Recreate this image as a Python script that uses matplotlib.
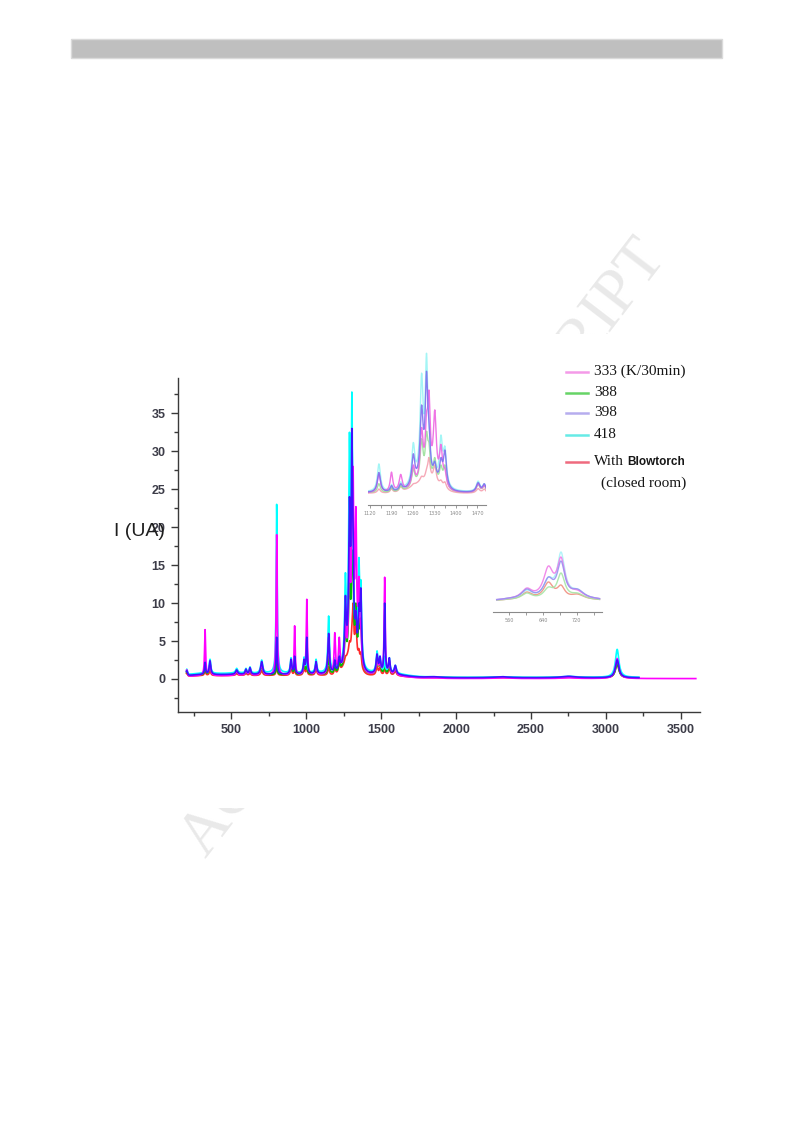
import numpy as np
import matplotlib
matplotlib.use("Agg")
import matplotlib.pyplot as plt
from matplotlib.patches import Rectangle
from matplotlib.lines import Line2D
from matplotlib.ticker import MultipleLocator, FixedLocator

# ------------------------------------------------------------------ data
series_keys = ["333", "388", "398", "418", "blow"]
legend_labels = ["333 (K/30min)", "388", "398", "418"]

# Raman band centres (cm-1) and half widths
band_pos = [202, 324, 357, 535, 597, 624, 702, 802, 898, 922, 985, 1003, 1065,
            1149, 1190, 1220, 1261, 1288, 1304, 1312, 1331, 1351, 1364,
            1472, 1492, 1523, 1554, 1594, 1850, 2300, 2750, 3075]
band_hw = [5, 4, 6, 8, 6, 6, 8, 4, 6, 4, 6, 4, 6,
           6, 5, 6, 6, 6, 5, 5, 6, 6, 6,
           7, 6, 4, 6, 8, 60, 60, 60, 14]

# intensity read at each band centre, per spectrum
t333 = [1.2, 6.5, 2.0, 1.0, 1.2, 1.4, 2.0, 19.0, 2.0, 7.0, 2.0, 10.5, 2.0,
        5.5, 6.1, 5.5, 8.0, 18.0, 22.0, 28.0, 22.7, 13.5, 7.0,
        3.0, 2.6, 13.4, 2.5, 1.5, 0.15, 0.15, 0.15, 2.7]
t388 = [1.0, 2.0, 2.0, 0.9, 1.0, 1.2, 1.7, 2.5, 2.2, 2.2, 2.0, 2.5, 2.0,
        3.0, 2.0, 2.5, 7.0, 15.0, 17.0, 14.0, 10.0, 8.0, 8.0,
        2.8, 2.5, 2.6, 2.3, 1.4, 0.25, 0.25, 0.3, 2.0]
t398 = [1.1, 2.2, 2.4, 1.2, 1.3, 1.5, 2.3, 5.5, 2.6, 3.0, 2.6, 5.5, 2.3,
        6.0, 2.5, 3.0, 11.0, 24.0, 33.0, 20.0, 9.0, 10.0, 12.0,
        3.3, 3.0, 10.0, 2.8, 1.8, 0.3, 0.3, 0.35, 2.5]
t418 = [1.3, 2.4, 2.6, 1.4, 1.4, 1.6, 2.5, 23.0, 2.8, 3.2, 2.9, 3.2, 2.6,
        8.3, 2.8, 3.5, 14.0, 32.5, 37.8, 20.0, 9.0, 16.0, 13.0,
        3.7, 3.0, 3.0, 2.8, 1.8, 0.3, 0.3, 0.35, 3.9]
tblow = [0.8, 1.3, 1.1, 0.7, 0.8, 0.8, 1.1, 2.0, 1.5, 1.5, 1.5, 1.7, 1.4,
         1.6, 1.7, 2.3, 3.0, 5.0, 7.0, 10.0, 8.0, 4.0, 3.5,
         1.7, 1.6, 1.9, 1.6, 1.1, 0.2, 0.2, 0.25, 2.0]

# fluorescence background bands
bg_pos = [300, 550, 800, 1050, 1300, 1550, 1300]
bg_sig = [110, 110, 110, 110, 110, 110, 40]
bg333 = [0.35, 0.35, 0.35, 0.35, 0.35, 0.35, 1.5]
bg388 = [0.35, 0.35, 0.35, 0.35, 0.35, 0.35, 2.0]
bg398 = [0.40, 0.40, 0.40, 0.40, 0.40, 0.40, 2.0]
bg418 = [0.50, 0.50, 0.50, 0.50, 0.50, 0.50, 2.0]
bgblow = [0.30, 0.30, 0.30, 0.30, 0.30, 0.30, 3.0]
offsets = [0.05, 0.15, 0.15, 0.2, 0.12]
x_end = [3600, 3220, 3220, 3220, 3220]

# second inset (own spectral window)
ins2_pos = [560, 602, 653, 683, 722, 765]
ins2_hw = [25, 16, 14, 11, 20, 25]
i2_333 = [3, 13, 35, 44, 11, 3]
i2_388 = [2, 8, 14, 28, 8, 2]
i2_398 = [3, 12, 24, 40, 12, 3]
i2_418 = [3, 11, 24, 49, 12, 3]
i2_blow = [2, 9, 19, 16, 7, 2]
ins2_range = [531, 774]
ins2_ticks = [560, 640, 720]
ins2_minor = [600, 680, 760]

ins1_ticks = [1120, 1190, 1260, 1330, 1400, 1470]
ins1_minor = [1155, 1225, 1295, 1365, 1435]

main_xticks = [500, 1000, 1500, 2000, 2500, 3000, 3500]
main_yticks = [0, 5, 10, 15, 20, 25, 30, 35]

targets = [t333, t388, t398, t418, tblow]
bgs = [bg333, bg388, bg398, bg418, bgblow]
ins2_targets = [i2_333, i2_388, i2_398, i2_418, i2_blow]

main_colors = ["#ff00ff", "#00bf00", "#4010ff", "#00ffff", "#ff2a2a"]
pale_colors = ["#f49ae8", "#66d466", "#b6adee", "#66ebe6", "#ef6a7e"]
ins1_colors = ["#ee66e2", "#9ae09a", "#7f70ee", "#99f4f4", "#f5a0b0"]
ins2_colors = ["#f07ee8", "#a6e6a6", "#9a90f0", "#a8f2f8", "#f09080"]


# ------------------------------------------------------------------ helpers
def lorentz_matrix(xs, pos, hw):
    P = np.asarray(pos, float)
    W = np.asarray(hw, float)
    return 1.0 / (1.0 + ((np.asarray(xs, float)[:, None] - P[None, :]) / W[None, :]) ** 2)


def background(xs, bpos, bsig, bh, off):
    xs = np.asarray(xs, float)
    y = np.full_like(xs, off)
    for p, s, h in zip(bpos, bsig, bh):
        y += h * np.exp(-0.5 * ((xs - p) / s) ** 2)
    return y


def fit_amplitudes(pos, hw, tgt, base):
    A = lorentz_matrix(pos, pos, hw)
    rhs = np.asarray(tgt, float) - base
    active = np.ones(len(pos), bool)
    amp = np.zeros(len(pos))
    for _ in range(len(pos)):
        amp[:] = 0
        amp[active] = np.linalg.lstsq(A[:, active], rhs, rcond=None)[0]
        neg = amp < 0
        if not neg.any():
            break
        active &= ~neg
    return np.clip(amp, 0, None)


def build(tgt, bh, off, xmax):
    xs = np.arange(200.0, xmax + 0.5, 1.0)
    base_p = background(band_pos, bg_pos, bg_sig, bh, off)
    amp = fit_amplitudes(band_pos, band_hw, tgt, base_p)
    y = background(xs, bg_pos, bg_sig, bh, off) + lorentz_matrix(xs, band_pos, band_hw) @ amp
    return xs, y


def build_ins2(tgt):
    xs = np.arange(ins2_range[0], ins2_range[1] + 0.5, 1.0)
    amp = fit_amplitudes(ins2_pos, ins2_hw, tgt, np.zeros(len(ins2_pos)))
    return xs, lorentz_matrix(xs, ins2_pos, ins2_hw) @ amp


spectra = [build(targets[i], bgs[i], offsets[i], x_end[i]) for i in range(5)]
spectra2 = [build_ins2(ins2_targets[i]) for i in range(5)]

# ------------------------------------------------------------------ figure
W, H = 793, 1123
fig = plt.figure(figsize=(W / 100, H / 100), dpi=100)


def fx(px):
    return px / W


def fy(py):
    return 1 - py / H


# header bar
fig.add_artist(Rectangle((fx(71), fy(58)), (722 - 71) / W, 19 / H, transform=fig.transFigure,
                         facecolor="#bfbfbf", edgecolor="#dadada", lw=1, zorder=1))

# watermark, partly hidden behind the chart picture
fig.text(fx(424), fy(549), "ACCEPTED MANUSCRIPT", rotation=52.5, rotation_mode="anchor",
         ha="center", va="center", fontsize=46, family="Liberation Serif",
         color="#e9e9e9", zorder=-3)
fig.add_artist(Rectangle((fx(95), fy(808)), (722 - 95) / W, (808 - 334) / H,
                         transform=fig.transFigure, facecolor="white", edgecolor="none",
                         zorder=-1))

# main axes
ax = fig.add_axes([fx(177.5), fy(712), (700 - 177.5) / W, (712 - 378) / H])
draw_order = [4, 1, 3, 0, 2]
for i in draw_order:
    xs, ys = spectra[i]
    ax.plot(xs, ys, color=main_colors[i], lw=1.2, solid_joinstyle="round")
ax.set_xlim(140, 3628)
ax.set_ylim(-4.35, 39.65)
for s in ["top", "right"]:
    ax.spines[s].set_visible(False)
for s in ["left", "bottom"]:
    ax.spines[s].set_color("#3a3a3a")
    ax.spines[s].set_linewidth(1.0)
ax.xaxis.set_major_locator(FixedLocator(main_xticks))
ax.xaxis.set_minor_locator(MultipleLocator(250))
ax.yaxis.set_major_locator(FixedLocator(main_yticks))
ax.yaxis.set_minor_locator(MultipleLocator(2.5))
ax.tick_params(which="major", direction="out", length=5, width=1, colors="#3a3a3a",
               labelsize=9, labelcolor="#3c3c48")
ax.tick_params(which="minor", direction="out", length=3, width=1, colors="#3a3a3a")
for lab in ax.get_xticklabels() + ax.get_yticklabels():
    lab.set_family(["Liberation Sans Narrow", "Liberation Sans", "DejaVu Sans"])
    lab.set_fontweight("bold")

fig.text(fx(139), fy(532), "I (UA)", fontsize=14, ha="center", va="center",
         family=["Liberation Sans", "DejaVu Sans"], color="#1e1e1e", zorder=5)

# inset 1 (zoom on 1113-1498 cm-1)
ax1 = fig.add_axes([fx(368), fy(505), (486 - 368) / W, (505 - 348) / H])
ax1.patch.set_alpha(0)
for i in draw_order:
    xs, ys = spectra[i]
    ax1.plot(xs, ys, color=ins1_colors[i], lw=1.0, alpha=0.9)
ax1.set_xlim(1113.5, 1497.7)
ax1.set_ylim(-2.67, 39.2)
for s in ["top", "right", "left"]:
    ax1.spines[s].set_visible(False)
ax1.spines["bottom"].set_color("#8a8a8a")
ax1.spines["bottom"].set_linewidth(0.8)
ax1.set_yticks([])
ax1.xaxis.set_major_locator(FixedLocator(ins1_ticks))
ax1.xaxis.set_minor_locator(FixedLocator(ins1_minor))
ax1.tick_params(which="both", direction="out", length=2, width=0.6, colors="#8a8a8a",
                labelsize=3.5, pad=2)

# inset 2
ax2 = fig.add_axes([fx(493), fy(612), (602 - 493) / W, (612 - 545) / H])
ax2.patch.set_alpha(0)
for i in draw_order:
    xs, ys = spectra2[i]
    ax2.plot(xs, ys, color=ins2_colors[i], lw=1.0, alpha=0.9)
ax2.set_xlim(522.2, 779.8)
ax2.set_ylim(-11, 56)
for s in ["top", "right", "left"]:
    ax2.spines[s].set_visible(False)
ax2.spines["bottom"].set_color("#8a8a8a")
ax2.spines["bottom"].set_linewidth(0.8)
ax2.set_yticks([])
ax2.xaxis.set_major_locator(FixedLocator(ins2_ticks))
ax2.xaxis.set_minor_locator(FixedLocator(ins2_minor))
ax2.tick_params(which="both", direction="out", length=2, width=0.6, colors="#8a8a8a",
                labelsize=3.5, pad=2)

# legend (drawn as in the source picture)
leg_rows = [371.7, 392.7, 413.0, 435.0]
for i, (yy, lab) in enumerate(zip(leg_rows, legend_labels)):
    fig.add_artist(Line2D([fx(566), fx(588)], [fy(yy), fy(yy)], transform=fig.transFigure,
                          color=pale_colors[i], lw=1.8))
    fig.text(fx(594), fy(yy), lab, ha="left", va="center", fontsize=11,
             family="Liberation Serif", color="#161616")
fig.add_artist(Line2D([fx(566), fx(588)], [fy(461.7), fy(461.7)], transform=fig.transFigure,
                      color=pale_colors[4], lw=1.8))
fig.text(fx(594), fy(461.7), "With", ha="left", va="center", fontsize=11,
         family="Liberation Serif", color="#161616")
fig.text(fx(627), fy(461.7), "Blowtorch", ha="left", va="center", fontsize=8.5,
         family=["Liberation Sans Narrow", "Liberation Sans"], fontweight="bold", color="#161616")
fig.text(fx(601), fy(483), "(closed room)", ha="left", va="center", fontsize=11,
         family="Liberation Serif", color="#161616")

fig.savefig("out.png", dpi=100)
